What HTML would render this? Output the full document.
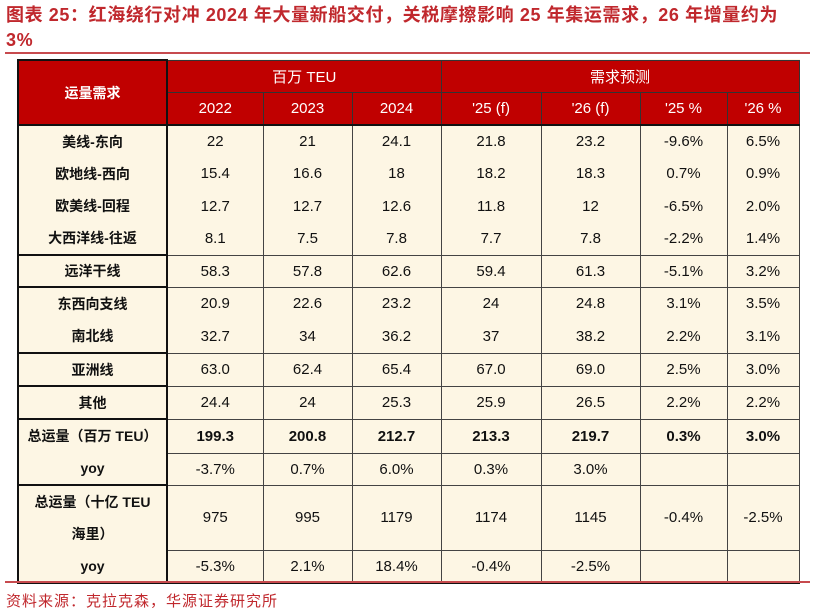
<!DOCTYPE html>
<html><head><meta charset="utf-8"><style>
body{margin:0;width:815px;height:615px;background:#fff;position:relative;overflow:hidden;font-family:"Liberation Sans","Noto Sans CJK SC",sans-serif;}
.title{position:absolute;left:6px;top:3px;width:810px;color:#c0282d;font-weight:bold;font-size:18px;letter-spacing:0.6px;line-height:25px;white-space:nowrap;}
.line{position:absolute;left:5px;width:805px;height:2px;background:#c74a4e;}
table{position:absolute;left:17px;top:59px;border-collapse:collapse;table-layout:fixed;background:#fdf6e4;font-size:15px;color:#111;}
td{text-align:center;padding:0;border-left:1px solid #444;border-right:1px solid #444;}
.h td{background:#c00000;color:#fff;border:1px solid #333;}
.L{border:2px solid #111;font-weight:bold;font-size:14px;}
.h td.L{border:2px solid #111;}
.tb td{border-top:2px solid #111;}
.tn td{border-top:1px solid #444;}
.bold td{font-weight:bold;}
</style></head><body>
<div class="title">图表 25：红海绕行对冲 2024 年大量新船交付，关税摩擦影响 25 年集运需求，26 年增量约为<br>3%</div>
<div class="line" style="top:52px"></div>
<table>
<colgroup><col style="width:149px"><col style="width:96px"><col style="width:89px"><col style="width:89px"><col style="width:100px"><col style="width:99px"><col style="width:87px"><col style="width:72px"></colgroup>
<tr class="h" style="height:32px"><td class="L" rowspan="2">运量需求</td><td colspan="3">百万 TEU</td><td colspan="4">需求预测</td></tr>
<tr class="h" style="height:33px"><td>2022</td><td>2023</td><td>2024</td><td>'25 (f)</td><td>'26 (f)</td><td>'25 %</td><td>'26 %</td></tr>
<tr style="height:32px" class="tb"><td class="L" rowspan="4" style="line-height:32px">美线-东向<br>欧地线-西向<br>欧美线-回程<br>大西洋线-往返</td><td>22</td><td>21</td><td>24.1</td><td>21.8</td><td>23.2</td><td>-9.6%</td><td>6.5%</td></tr>
<tr style="height:32px"><td>15.4</td><td>16.6</td><td>18</td><td>18.2</td><td>18.3</td><td>0.7%</td><td>0.9%</td></tr>
<tr style="height:32px"><td>12.7</td><td>12.7</td><td>12.6</td><td>11.8</td><td>12</td><td>-6.5%</td><td>2.0%</td></tr>
<tr style="height:32px"><td>8.1</td><td>7.5</td><td>7.8</td><td>7.7</td><td>7.8</td><td>-2.2%</td><td>1.4%</td></tr>
<tr style="height:32px" class="tn"><td class="L">远洋干线</td><td>58.3</td><td>57.8</td><td>62.6</td><td>59.4</td><td>61.3</td><td>-5.1%</td><td>3.2%</td></tr>
<tr style="height:32px" class="tn"><td class="L" rowspan="2" style="line-height:32px">东西向支线<br>南北线</td><td>20.9</td><td>22.6</td><td>23.2</td><td>24</td><td>24.8</td><td>3.1%</td><td>3.5%</td></tr>
<tr style="height:32px"><td>32.7</td><td>34</td><td>36.2</td><td>37</td><td>38.2</td><td>2.2%</td><td>3.1%</td></tr>
<tr style="height:33px" class="tn"><td class="L">亚洲线</td><td>63.0</td><td>62.4</td><td>65.4</td><td>67.0</td><td>69.0</td><td>2.5%</td><td>3.0%</td></tr>
<tr style="height:33px" class="tn"><td class="L">其他</td><td>24.4</td><td>24</td><td>25.3</td><td>25.9</td><td>26.5</td><td>2.2%</td><td>2.2%</td></tr>
<tr style="height:34px" class="tn bold"><td class="L" rowspan="2" style="line-height:32px">总运量（百万 TEU）<br>yoy</td><td>199.3</td><td>200.8</td><td>212.7</td><td>213.3</td><td>219.7</td><td>0.3%</td><td>3.0%</td></tr>
<tr style="height:32px" class="tn"><td>-3.7%</td><td>0.7%</td><td>6.0%</td><td>0.3%</td><td>3.0%</td><td></td><td></td></tr>
<tr style="height:65px" class="tn"><td class="L" rowspan="2" style="line-height:32px">总运量（十亿 TEU<br>海里）<br>yoy</td><td>975</td><td>995</td><td>1179</td><td>1174</td><td>1145</td><td>-0.4%</td><td>-2.5%</td></tr>
<tr style="height:32px" class="tn" ><td style="border-bottom:2px solid #111">-5.3%</td><td style="border-bottom:2px solid #111">2.1%</td><td style="border-bottom:2px solid #111">18.4%</td><td style="border-bottom:2px solid #111">-0.4%</td><td style="border-bottom:2px solid #111">-2.5%</td><td style="border-bottom:2px solid #111"></td><td style="border-bottom:2px solid #111"></td></tr>
</table>
<div class="line" style="top:581px"></div>
<div style="position:absolute;left:6px;top:590px;color:#c0282d;font-size:15px;letter-spacing:1px;">资料来源：克拉克森，华源证券研究所</div>
</body></html>
